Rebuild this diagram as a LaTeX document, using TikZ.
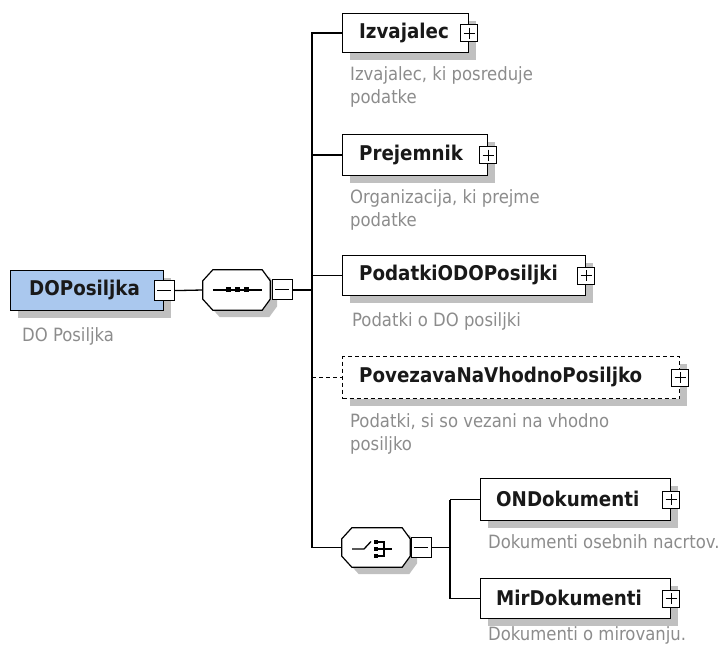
\documentclass[tikz,border=0pt]{standalone}
\usepackage{fontspec}
\setmainfont{DejaVu Sans Condensed}
\usetikzlibrary{shadows}
\definecolor{shadowgray}{RGB}{192,192,192}
\definecolor{descgray}{RGB}{140,140,140}
\definecolor{rootblue}{RGB}{170,200,238}
\tikzset{
  shd/.style={general shadow={fill=shadowgray, shadow xshift=7pt, shadow yshift=-7pt}},
  elem/.style={draw, line width=1.2pt, fill=white, rectangle, inner sep=0pt, anchor=north west, shd},
  holder/.style={rectangle, inner sep=0pt},
  octo/.style={draw, line width=1.2pt, fill=white, shd},
  nm/.style={font=\fontsize{20.3}{24}\selectfont\bfseries, inner sep=0pt, anchor=west, text=black!90},
  desc/.style={font=\fontsize{18.3}{23}\selectfont, inner sep=0pt, anchor=west, align=left, text=descgray},
  pbox/.style={draw, fill=white, line width=1pt, minimum size=17pt, inner sep=0pt,
    path picture={
      \draw[line width=1pt] ([xshift=3pt]path picture bounding box.west) -- ([xshift=-3pt]path picture bounding box.east);
      \draw[line width=1pt] ([yshift=-3pt]path picture bounding box.north) -- ([yshift=3pt]path picture bounding box.south);}},
  mbox/.style={draw, fill=white, line width=1pt, minimum size=20pt, inner sep=0pt,
    path picture={
      \draw[line width=1pt] ([xshift=3pt]path picture bounding box.west) -- ([xshift=-3pt]path picture bounding box.east);}},
  conn/.style={line width=1.3pt},
  dconn/.style={line width=1.3pt, dash pattern=on 4pt off 3pt},
}
\begin{document}
\begin{tikzpicture}[x=1pt,y=-1pt]
\useasboundingbox (0,0) rectangle (723,652);

% root element
\node[elem, fill=rootblue, minimum width=153pt, minimum height=40pt] (do) at (10,270) {};
\node[nm] (dot) at (29,290) {DOPosiljka};
\node[mbox] (dom) at (do.east) {};
\node[desc] (dod) at (22,336) {DO Posiljka};

% sequence compositor
\node[holder, minimum width=67pt, minimum height=40pt] (seq) at (236.5,290) {};
\draw[octo] ([xshift=10pt]seq.north west) -- ([xshift=-8pt]seq.north east) -- ([yshift=-11pt]seq.north east)
  -- ([yshift=11pt]seq.south east) -- ([xshift=-8pt]seq.south east) -- ([xshift=10pt]seq.south west)
  -- ([yshift=11pt]seq.south west) -- ([yshift=-11pt]seq.north west) -- cycle;
\draw[line width=1.3pt] ([xshift=10pt]seq.west) -- ([xshift=-8pt]seq.east);
\foreach \xx in {228,237,246}{\fill (\xx-2.5,287.5) rectangle (\xx+2.5,292.5);}
\node[mbox] (seqm) at (282,290) {};
\draw[conn] (dom.east) -- (seq.west);

% bus
\coordinate (bt) at (312,32.5);
\coordinate (bb) at (312,547.5);
\draw[conn] (seqm.east) -- (seqm.east -| bt);
\draw[conn] (bt) -- (bb);

% Izvajalec
\node[elem, minimum width=126pt, minimum height=39pt] (izv) at (342,13) {};
\node[nm] (izvt) at (359,32.5) {Izvajalec};
\node[pbox] (izvp) at (izv.east) {};
\node[desc] (izvd) at (350,86.5) {Izvajalec, ki posreduje\\podatke};
\draw[conn] (izv.west -| bt) -- (izv.west);

% Prejemnik
\node[elem, minimum width=145pt, minimum height=41pt] (pre) at (342,134) {};
\node[nm] (pret) at (359,154.5) {Prejemnik};
\node[pbox] (prep) at (pre.east) {};
\node[desc] (pred) at (350,210) {Organizacija, ki prejme\\podatke};
\draw[conn] (pre.west -| bt) -- (pre.west);

% PodatkiODOPosiljki
\node[elem, minimum width=243pt, minimum height=40pt] (pod) at (342,255) {};
\node[nm] (podt) at (359,275) {PodatkiODOPosiljki};
\node[pbox] (podp) at (pod.east) {};
\node[desc] (podd) at (352,321) {Podatki o DO posiljki};
\draw[conn] (pod.west -| bt) -- (pod.west);

% PovezavaNaVhodnoPosiljko (optional)
\node[elem, dash pattern=on 4pt off 3pt, minimum width=337pt, minimum height=42pt] (pov) at (342,356) {};
\node[nm] (povt) at (359,377) {PovezavaNaVhodnoPosiljko};
\node[pbox] (povp) at (pov.east) {};
\node[desc] (povd) at (350,433.5) {Podatki, si so vezani na vhodno\\posiljko};
\draw[dconn] (pov.west -| bt) -- (pov.west);

% choice compositor
\node[holder, minimum width=68pt, minimum height=39pt] (ch) at (376,547.5) {};
\draw[octo] ([xshift=10pt]ch.north west) -- ([xshift=-8pt]ch.north east) -- ([yshift=-11pt]ch.north east)
  -- ([yshift=11pt]ch.south east) -- ([xshift=-8pt]ch.south east) -- ([xshift=10pt]ch.south west)
  -- ([yshift=11pt]ch.south west) -- ([yshift=-11pt]ch.north west) -- cycle;
\draw[line width=1.3pt] (352,549) -- (364,549) -- (371,541.5);
\foreach \yy in {542,549,556}{\fill (373.5,\yy-2) rectangle (377.5,\yy+2);}
\draw[line width=1.3pt] (377.5,542) -- (384,542) -- (384,556) -- (377.5,556);
\draw[line width=1.3pt] (377.5,549) -- (392,549);
\node[mbox] (chm) at (421,547.5) {};
\draw[conn] (bb) -- (ch.west);
\coordinate (cj) at (450,547.5);
\draw[conn] (chm.east) -- (cj);

% ONDokumenti
\node[elem, minimum width=190pt, minimum height=42pt] (ond) at (480,478) {};
\node[nm] (ondt) at (496,499) {ONDokumenti};
\node[pbox] (ondp) at (ond.east) {};
\node[desc] (ondd) at (488,542) {Dokumenti osebnih nacrtov.};

% MirDokumenti
\node[elem, minimum width=190pt, minimum height=40pt] (mir) at (480,578) {};
\node[nm] (mirt) at (496,598) {MirDokumenti};
\node[pbox] (mirp) at (mir.east) {};
\node[desc] (mird) at (488,635) {Dokumenti o mirovanju.};

\draw[conn] (cj |- ond.west) -- (cj |- mir.west);
\draw[conn] (cj |- ond.west) -- (ond.west);
\draw[conn] (cj |- mir.west) -- (mir.west);
\end{tikzpicture}
\end{document}
